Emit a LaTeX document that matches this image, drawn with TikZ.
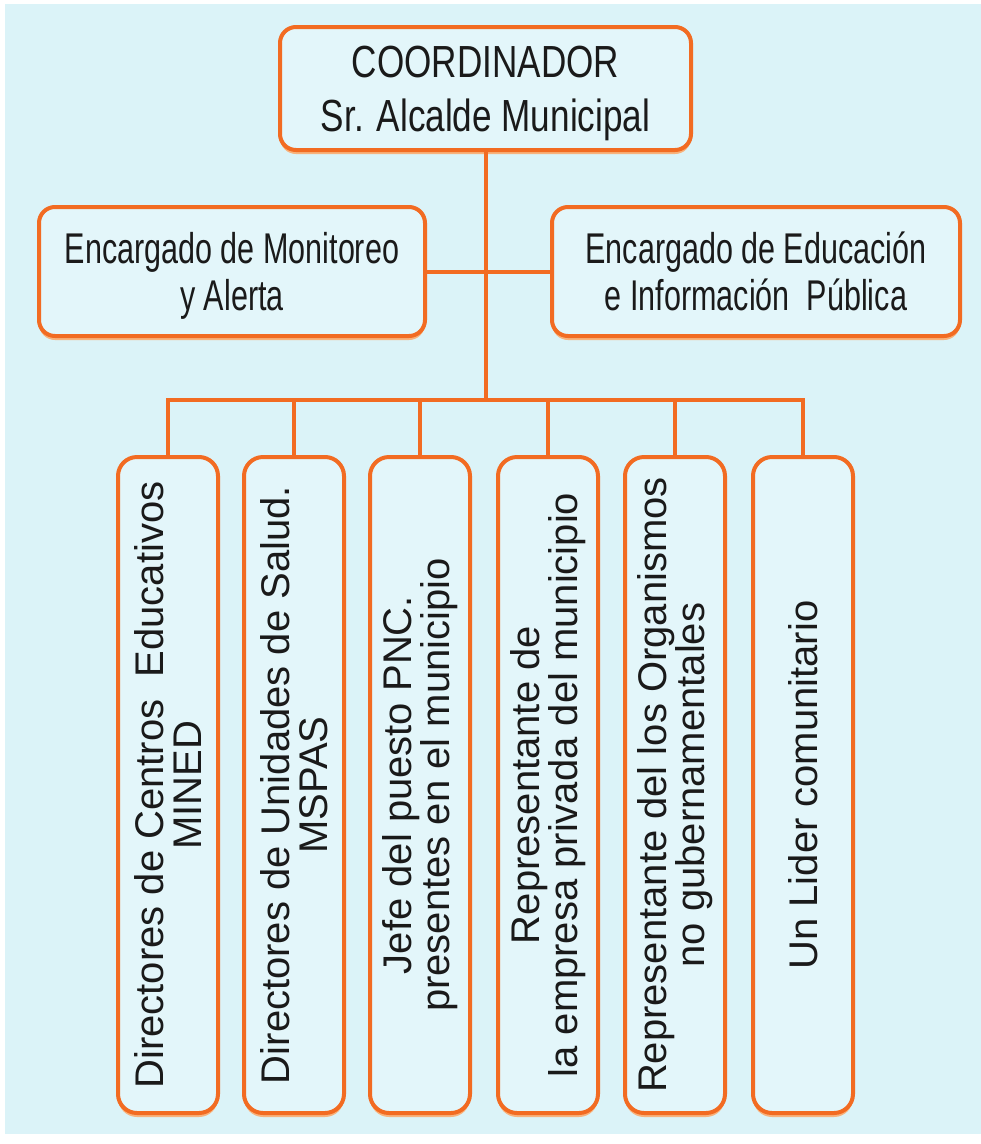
\documentclass[tikz,border=0pt]{standalone}
\usepackage{fontspec}
\setmainfont{Liberation Sans}
\newfontfamily\topfont[FakeStretch=0.78]{Liberation Sans}
\newfontfamily\midfont[FakeStretch=0.71]{Liberation Sans}
\usetikzlibrary{shadows}
\definecolor{bg}{HTML}{DBF3F8}
\definecolor{boxfill}{HTML}{E3F6FA}
\definecolor{org}{HTML}{F26B22}
\definecolor{orgshadow}{HTML}{F8B27C}
\definecolor{txt}{HTML}{1A1A1A}
\begin{document}
\begin{tikzpicture}[x=1pt,y=1pt,
  box/.style={draw=org, line width=4pt, fill=boxfill, rounded corners=16pt, inner sep=0pt,
    drop shadow={shadow xshift=0pt, shadow yshift=-4pt, fill=orgshadow, opacity=1}},
  tallbox/.style={box, rounded corners=19pt, minimum width=100pt, minimum height=656pt},
  conn/.style={draw=org, line width=4pt},
  toptext/.style={text=txt, align=center, inner sep=0pt, font=\topfont\fontsize{45}{54}\selectfont},
  midtext/.style={text=txt, align=center, inner sep=0pt, font=\midfont\fontsize{43}{47}\selectfont},
  vtext/.style={text=txt, align=center, inner sep=0pt, rotate=90, font=\fontsize{40}{38}\selectfont}
]
\fill[white] (0,0) rectangle (981,-1144);
\fill[bg] (5,-4) rectangle (981,-1134);
\useasboundingbox (0,0) rectangle (981,-1144);

% boxes
\node[box, minimum width=411pt, minimum height=123pt] (top) at (485.5,-88.5) {};
\node[box, minimum width=386pt, minimum height=129pt] (mon) at (232,-271.5) {};
\node[box, minimum width=408pt, minimum height=129pt] (edu) at (756,-271.5) {};

\node[tallbox] (b1) at (168,-785) {};
\node[tallbox] (b2) at (294,-785) {};
\node[tallbox] (b3) at (420,-785) {};
\node[tallbox] (b4) at (548,-785) {};
\node[tallbox] (b5) at (675,-785) {};
\node[tallbox] (b6) at (803,-785) {};

% connectors
\coordinate (j) at (top.south |- 0,-400);
\draw[conn] (top.south) -- (j);
\draw[conn] (mon.east) -- (edu.west);
\draw[conn, line join=miter] (b1.north) -- (b1.north |- j) -- (b6.north |- j) -- (b6.north);
\foreach \i in {2,...,5} \draw[conn] (b\i.north) -- (b\i.north |- j);

% texts
\node[toptext] (toptx) at (485.5,-93.5) {COORDINADOR\\Sr. Alcalde Municipal};
\node[midtext] (montx) at (232,-275.5) {Encargado de Monitoreo\\y Alerta};
\node[midtext] (edutx) at (756,-275.5) {Encargado de Educación\\e Información\ \ Pública\vphantom{y}};

\node[vtext] (t1) at (b1) {Directores de Centros\ \ Educativos\\MINED};
\node[vtext] (t2) at (b2) {Directores de Unidades de Salud.\\MSPAS};
\node[vtext] (t3) at (b3) {Jefe del puesto PNC.\\presentes en el municipio};
\node[vtext] (t4) at (b4) {Representante de\\la empresa privada del municipio};
\node[vtext] (t5) at (b5) {Representante del los Organismos\\no gubernamentales};
\node[vtext] (t6) at (b6) {Un Lider comunitario};
\end{tikzpicture}
\end{document}
